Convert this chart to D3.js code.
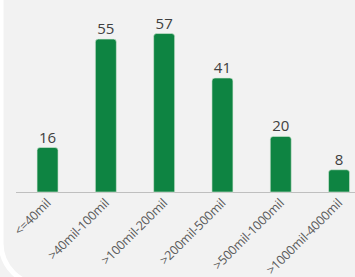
<!DOCTYPE html>
<html>
<head>
<meta charset="utf-8">
<script src="https://cdn.jsdelivr.net/npm/d3@7"></script>
<style>
  body { margin: 0; background: #f2f2f2; overflow: hidden; }
  svg { display: block; }
</style>
</head>
<body>
<svg id="chart"></svg>
<script>
// data
var categories = ["<=40mil", ">40mil-100mil", ">100mil-200mil", ">200mil-500mil", ">500mil-1000mil", ">1000mil-4000mil"];
var counts = [16, 55, 57, 41, 20, 8];

var W = 355, H = 277;
var svg = d3.select("#chart").attr("width", W).attr("height", H);

// background panel with rounded corner (bottom-left)
svg.append("rect")
  .attr("x", 1).attr("y", -60)
  .attr("width", 420).attr("height", 345)
  .attr("rx", 42)
  .attr("fill", "#f2f2f2")
  .attr("stroke", "#ffffff")
  .attr("stroke-width", 5);

var baseline = 192;
var data = categories.map(function (c, i) { return { cat: c, val: counts[i] }; });

// set the ranges
var x = d3.scaleBand().domain(categories).range([18.4, 368.2]).paddingInner(0.64).paddingOuter(0.32);
var y = d3.scaleLinear().domain([0, 60]).range([baseline, 25.2]);

var g = svg.append("g");

// axis line
g.append("line")
  .attr("x1", 16).attr("x2", W)
  .attr("y1", baseline + 0.5).attr("y2", baseline + 0.5)
  .attr("stroke", "#bfbfbf").attr("stroke-width", 1);

// bars with rounded tops
function barPath(d) {
  var x0 = x(d.cat), w = x.bandwidth(), y0 = y(d.val), r = 3;
  return "M" + x0 + "," + baseline +
    "V" + (y0 + r) +
    "Q" + x0 + "," + y0 + " " + (x0 + r) + "," + y0 +
    "H" + (x0 + w - r) +
    "Q" + (x0 + w) + "," + y0 + " " + (x0 + w) + "," + (y0 + r) +
    "V" + baseline + "Z";
}

g.selectAll(".bar")
  .data(data)
  .enter().append("path")
  .attr("class", "bar")
  .attr("d", barPath)
  .attr("fill", "#0e8442")
  .attr("stroke", "#d9ead9")
  .attr("stroke-width", 0.6);

// value labels
g.selectAll(".lbl")
  .data(data)
  .enter().append("text")
  .attr("class", "lbl")
  .attr("x", function (d) { return x(d.cat) + x.bandwidth() / 2; })
  .attr("y", function (d) { return y(d.val) - 5; })
  .attr("text-anchor", "middle")
  .attr("font-family", "Open Sans, sans-serif")
  .attr("font-size", "15px")
  .attr("fill", "#404040")
  .text(function (d) { return d.val; });

// category labels, rotated
g.selectAll(".cat")
  .data(data)
  .enter().append("text")
  .attr("class", "cat")
  .attr("text-anchor", "end")
  .attr("font-family", "Open Sans, sans-serif")
  .attr("font-size", "12.5px")
  .attr("letter-spacing", "-0.2px")
  .attr("fill", "#595959")
  .attr("transform", function (d) {
    var cx = x(d.cat) + x.bandwidth() / 2;
    return "translate(" + (cx + 4) + "," + (baseline + 12) + ") rotate(-45)";
  })
  .text(function (d) { return d.cat; });
</script>
</body>
</html>
